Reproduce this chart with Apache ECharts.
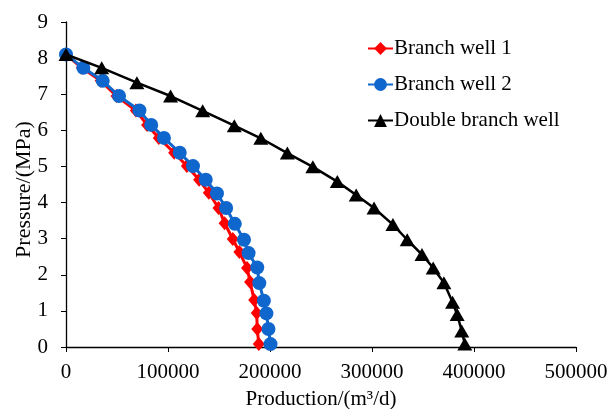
<!DOCTYPE html>
<html>
<head>
<meta charset="utf-8">
<script src="https://cdn.jsdelivr.net/npm/echarts@6/dist/echarts.min.js"></script>
<style>html,body{margin:0;padding:0;background:#fff}#c{width:611px;height:409px}</style>
</head>
<body>
<div id="c"></div>
<script>
const xTicks = [0, 100000, 200000, 300000, 400000, 500000];
const yTicks = [0, 1, 2, 3, 4, 5, 6, 7, 8, 9];
const seriesNames = ['Branch well 1', 'Branch well 2', 'Double branch well'];

const branch1 = [[0,8.1],[15500,7.73],[34000,7.37],[49500,6.95],[68500,6.55],[79500,6.15],[91000,5.79],[106000,5.38],[118500,5.01],[130500,4.63],[140000,4.27],[149500,3.85],[155500,3.43],[163500,2.99],[170000,2.63],[177500,2.19],[180500,1.8],[184500,1.3],[187000,0.94],[187500,0.5],[189000,0.08]];
const branch2 = [[0,8.1],[17000,7.73],[36000,7.37],[52000,6.95],[72000,6.55],[83500,6.15],[96000,5.79],[111500,5.38],[124500,5.01],[137000,4.63],[148000,4.25],[157000,3.85],[165500,3.41],[174500,2.97],[179000,2.6],[187500,2.2],[189500,1.77],[194000,1.28],[196500,0.93],[198500,0.5],[200500,0.08]];
const doubleBranch = [[0,8.1],[35000,7.73],[69500,7.32],[102500,6.95],[134000,6.54],[165000,6.13],[191000,5.78],[217000,5.37],[242000,4.99],[266000,4.58],[284500,4.21],[302000,3.85],[320500,3.39],[334500,2.97],[349000,2.56],[360000,2.19],[370500,1.78],[379000,1.24],[383500,0.9],[388000,0.44],[391000,0.08]];

const font = 'Liberation Serif';
const chart = echarts.init(document.getElementById('c'));
chart.setOption({
  animation: false,
  backgroundColor: '#fff',
  grid: {left: 66, right: 35, top: 22, bottom: 62, containLabel: false, outerBoundsMode: 'none'},
  legend: {
    left: 367, top: 38, orient: 'vertical', padding: 0,
    itemWidth: 25, itemHeight: 16, itemGap: 15,
    textStyle: {fontFamily: font, fontSize: 21, color: '#000', lineHeight: 20, padding: [0,0,0,-4]},
    data: seriesNames
  },
  xAxis: {
    type: 'value', min: xTicks[0], max: xTicks[xTicks.length-1], interval: 100000,
    name: 'Production/(m³/d)', nameLocation: 'middle', nameGap: 42,
    nameTextStyle: {fontFamily: font, fontSize: 21, color: '#000'},
    axisLine: {show: true, lineStyle: {color: '#000', width: 1.3}},
    axisTick: {show: true, inside: false, length: 5, lineStyle: {color: '#000'}},
    axisLabel: {fontFamily: font, fontSize: 21, color: '#000', margin: 15, formatter: v => String(v)},
    splitLine: {show: false}
  },
  yAxis: {
    type: 'value', min: yTicks[0], max: yTicks[yTicks.length-1], interval: 1,
    name: 'Pressure/(MPa)', nameLocation: 'middle', nameGap: 31, nameRotate: 90, nameMoveOverlap: false,
    nameTextStyle: {fontFamily: font, fontSize: 22, color: '#000', padding: [0, 10, 0, 0]},
    axisLine: {show: true, lineStyle: {color: '#000', width: 1.3}},
    axisTick: {show: true, inside: false, length: 5, lineStyle: {color: '#000'}},
    axisLabel: {fontFamily: font, fontSize: 21, color: '#000', margin: 18},
    splitLine: {show: false}
  },
  series: [
    {name: seriesNames[0], type: 'line', data: branch1, symbol: 'diamond', symbolSize: [12, 14],
     itemStyle: {color: '#FF0000'}, lineStyle: {color: '#FF0000', width: 3}, z: 2},
    {name: seriesNames[1], type: 'line', data: branch2, symbol: 'circle', symbolSize: 14,
     itemStyle: {color: '#0F66CC'}, lineStyle: {color: '#0F66CC', width: 3}, z: 3},
    {name: seriesNames[2], type: 'line', data: doubleBranch, symbol: 'triangle', symbolSize: [15, 13],
     itemStyle: {color: '#000'}, lineStyle: {color: '#000', width: 2.5}, z: 4}
  ]
});
</script>
</body>
</html>
